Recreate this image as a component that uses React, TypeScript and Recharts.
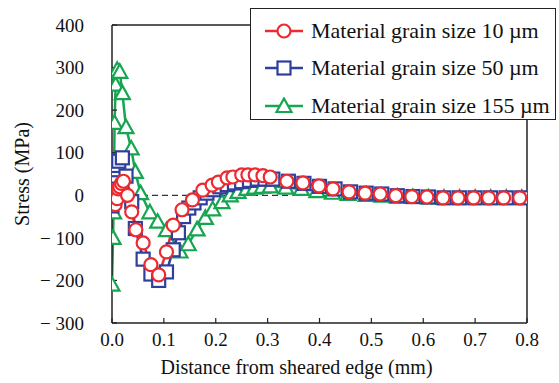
import { LineChart, Line, XAxis, YAxis, ReferenceLine, Legend } from 'recharts';

const FONT = '"Liberation Serif", "Times New Roman", serif';
const RED = '#ec2a2f';
const BLUE = '#2f3f9c';
const GREEN = '#16a550';

const xTicks = [0, 0.1, 0.2, 0.3, 0.4, 0.5, 0.6, 0.7, 0.8];
const yTicks = [-300, -200, -100, 0, 100, 200, 300, 400];

// 10 um
const redX = [0, 0.002, 0.004, 0.006, 0.008, 0.01, 0.012, 0.015, 0.018, 0.022, 0.03, 0.038, 0.046, 0.06, 0.075, 0.09, 0.105, 0.118, 0.135, 0.155, 0.175, 0.193, 0.205, 0.222, 0.233, 0.25, 0.262, 0.276, 0.291, 0.305, 0.337, 0.368, 0.399, 0.426, 0.457, 0.488, 0.517, 0.547, 0.578, 0.607, 0.638, 0.667, 0.697, 0.726, 0.755, 0.786];
const redY = [-5, -15, 5, -22, 10, -8, 15, 20, 28, 33, 0, -39, -81, -112, -163, -187, -133, -70, -34, -11, 12, 24, 31, 41, 43, 48, 48, 48, 46, 43, 33, 29, 22, 15, 8, 5, 3, -1, -3, -4, -6, -6, -6, -6, -6, -6];

// 50 um
const blueX = [0, 0.002, 0.004, 0.006, 0.008, 0.01, 0.013, 0.02, 0.027, 0.038, 0.045, 0.06, 0.075, 0.09, 0.105, 0.118, 0.128, 0.138, 0.148, 0.158, 0.17, 0.183, 0.196, 0.208, 0.222, 0.236, 0.25, 0.265, 0.28, 0.295, 0.31, 0.34, 0.37, 0.4, 0.43, 0.46, 0.49, 0.52, 0.55, 0.58, 0.61, 0.64, 0.67, 0.7, 0.73, 0.76, 0.79];
const blueY = [-25, -5, 25, 45, 60, 70, 80, 88, 45, -15, -78, -150, -185, -200, -180, -128, -88, -50, -30, -18, -6, 5, 13, 20, 25, 29, 32, 35, 38, 38, 38, 33, 28, 21, 15, 8, 5, 3, -1, -3, -4, -6, -6, -6, -6, -6, -6];

// 155 um
const greenX = [0, 0.002, 0.003, 0.005, 0.007, 0.01, 0.015, 0.02, 0.027, 0.037, 0.045, 0.055, 0.073, 0.088, 0.105, 0.131, 0.147, 0.164, 0.18, 0.194, 0.212, 0.228, 0.243, 0.26, 0.275, 0.29, 0.305, 0.335, 0.365, 0.395, 0.425, 0.455, 0.49, 0.52, 0.55, 0.58, 0.61, 0.64, 0.67, 0.7, 0.73, 0.76, 0.79];
const greenY = [-210, -100, -40, 170, 260, 295, 290, 240, 160, 110, 55, 5, -40, -62, -82, -132, -115, -80, -53, -33, -16, 0, 8, 15, 18, 20, 21, 18, 15, 10, 6, 3, 1, -1, -3, -4, -5, -6, -6, -6, -6, -6, -6];

const toRows = (xs: number[], ys: number[]) => xs.map((x, i) => ({ x, y: ys[i] }));
const redData = toRows(redX, redY);
const blueData = toRows(blueX, blueY);
const greenData = toRows(greenX, greenY);

const legendItems = [
  { name: 'Material grain size 10 µm', color: RED, shape: 'circle' },
  { name: 'Material grain size 50 µm', color: BLUE, shape: 'square' },
  { name: 'Material grain size 155 µm', color: GREEN, shape: 'triangle' },
];

function Marker({ cx, cy, color, shape }: { cx: number; cy: number; color: string; shape: string }) {
  if (shape === 'square') {
    return <rect x={cx - 6.5} y={cy - 6.5} width={13} height={13} fill="#fff" stroke={color} strokeWidth={2.2} />;
  }
  if (shape === 'triangle') {
    return (
      <polygon
        points={`${cx},${cy - 7.5} ${cx + 7.5},${cy + 6} ${cx - 7.5},${cy + 6}`}
        fill="#fff"
        stroke={color}
        strokeWidth={2.2}
      />
    );
  }
  return <circle cx={cx} cy={cy} r={6.5} fill="#fff" stroke={color} strokeWidth={2.2} />;
}

const dotFor = (color: string, shape: string) => (p: any) =>
  p.cx == null ? <g key={p.index} /> : (
    <Marker key={p.index} cx={p.cx} cy={p.cy} color={color} shape={shape} />
  );

function LegendBox() {
  return (
    <div
      style={{
        border: '1.5px solid #222',
        background: '#fff',
        width: 306,
        height: 112,
        boxSizing: 'border-box',
        padding: '3px 0 0 13px',
        fontFamily: FONT,
        fontSize: 22,
        color: '#111',
        whiteSpace: 'nowrap',
      }}
    >
      {legendItems.map((it) => (
        <div key={it.name} style={{ display: 'flex', alignItems: 'center', height: 37.5 }}>
          <svg width={40} height={18} style={{ marginRight: 7, flex: 'none' }}>
            <line x1={1} y1={9} x2={39} y2={9} stroke={it.color} strokeWidth={2.5} />
            <Marker cx={20} cy={9} color={it.color} shape={it.shape} />
          </svg>
          <span>{it.name}</span>
        </div>
      ))}
    </div>
  );
}

const yFmt = (v: number) => (v < 0 ? `− ${Math.abs(v)}` : `${v}`);

export default function App() {
  return (
    <div style={{ position: 'absolute', left: 0, top: 0 }}>
      <LineChart width={559} height={383} margin={{ top: 25, right: 32, left: 12, bottom: 0 }}>
        <XAxis
          dataKey="x"
          type="number"
          domain={[0, 0.8]}
          ticks={xTicks}
          tickFormatter={(v: number) => v.toFixed(1)}
          allowDataOverflow
          height={60}
          tickSize={-5}
          tickMargin={15}
          axisLine={{ stroke: '#222', strokeWidth: 1.5 }}
          tickLine={{ stroke: '#222', strokeWidth: 1.2 }}
          tick={{ fill: '#111', fontSize: 19, fontFamily: FONT }}
          label={{
            value: 'Distance from sheared edge (mm)',
            position: 'insideBottom',
            offset: 9,
            dx: -23,
            style: { fill: '#111', fontSize: 20, fontFamily: FONT },
          }}
        />
        <YAxis
          type="number"
          domain={[-300, 400]}
          ticks={yTicks}
          tickFormatter={yFmt}
          allowDataOverflow
          width={100}
          tickSize={-5}
          tickMargin={33}
          axisLine={{ stroke: '#222', strokeWidth: 1.5 }}
          tickLine={{ stroke: '#222', strokeWidth: 1.2 }}
          tick={{ fill: '#111', fontSize: 19, fontFamily: FONT }}
          label={{
            value: 'Stress (MPa)',
            angle: -90,
            position: 'insideLeft',
            offset: 10,
            style: { textAnchor: 'middle', fill: '#111', fontSize: 20, fontFamily: FONT },
          }}
        />
        <ReferenceLine y={400} stroke="#222" strokeWidth={1.5} />
        <ReferenceLine x={0.8} stroke="#222" strokeWidth={1.5} />
        <ReferenceLine y={0} stroke="#333" strokeWidth={1.2} strokeDasharray="6 4" />
        <Line
          data={greenData}
          dataKey="y"
          stroke={GREEN}
          strokeWidth={2.5}
          dot={dotFor(GREEN, 'triangle')}
          isAnimationActive={false}
        />
        <Line
          data={blueData}
          dataKey="y"
          stroke={BLUE}
          strokeWidth={2.5}
          dot={dotFor(BLUE, 'square')}
          isAnimationActive={false}
        />
        <Line
          data={redData}
          dataKey="y"
          stroke={RED}
          strokeWidth={2.5}
          dot={dotFor(RED, 'circle')}
          isAnimationActive={false}
        />
        <Legend
          layout="vertical"
          align="center"
          verticalAlign="middle"
          wrapperStyle={{ top: 8, left: 250, width: 306 }}
          content={() => <LegendBox />}
        />
      </LineChart>
    </div>
  );
}
